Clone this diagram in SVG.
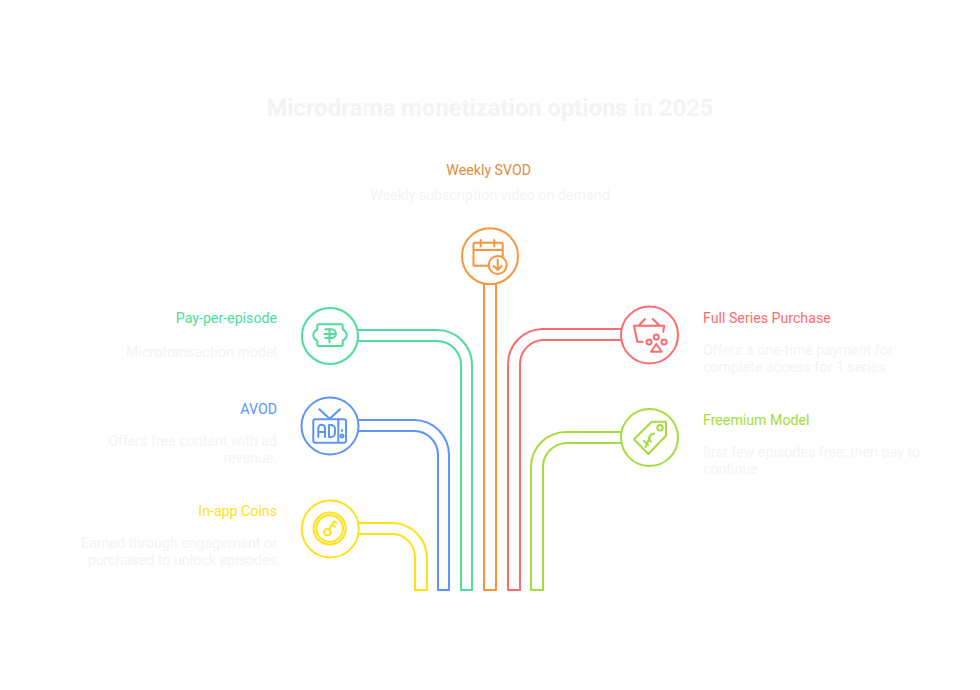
<svg xmlns="http://www.w3.org/2000/svg" width="980" height="690" viewBox="0 0 980 690">
<style>
text{font-family:Roboto,"Liberation Sans",sans-serif}
.t{font-size:23.75px;font-weight:700;fill:#f3f3f3;text-anchor:middle}
.l{font-size:14.2px;font-weight:400}
.d{font-size:14.25px;fill:#f3f3f3}
.e{text-anchor:end}
.m{text-anchor:middle}
.s{fill:none;stroke-width:2;stroke-linecap:round;stroke-linejoin:round}
.c{fill:#fff;stroke-width:2}
.g{stroke:#4fdc98}.b{stroke:#5b94fa}.y{stroke:#ffe019}.o{stroke:#f9943b}.r{stroke:#ff6b6b}.v{stroke:#a4dc3e}
</style>
<rect width="980" height="690" fill="#fff"/>
<text class="t" x="490" y="116">Microdrama monetization options in 2025</text>
<g id="connectors">
<path class="s y" d="M358 523H392A35 35 0 0 1 427 558V590H415V558A23 23 0 0 0 392 534H358"/>
<path class="s b" d="M358 420H414A35 35 0 0 1 449 455V590H438V455A24 24 0 0 0 414 431H358"/>
<path class="s g" d="M358 330H437A35 35 0 0 1 472 365V590H461V365A24 24 0 0 0 437 341H358"/>
<path class="s o" d="M484 284V590H496V284"/>
<path class="s r" d="M621 329H543A35 35 0 0 0 508 364V590H520V364A24 24 0 0 1 543 340H621"/>
<path class="s v" d="M621 432H566A35 35 0 0 0 531 467V590H543V467A24 24 0 0 1 566 443H621"/>
</g>
<g id="weekly-svod">
<circle class="c o" cx="490" cy="256.200" r="28"/>
<path class="s o" d="M488 265.700H473.500V244A1.500 1.500 0 0 1 475 242.700H501.200A1.500 1.500 0 0 1 502.700 244V256M473.500 250H502.700M480.700 240V246.500M494.300 240V246.500"/>
<circle class="s o" cx="497.700" cy="265" r="9"/>
<path class="s o" d="M497.700 259.500V270M493.700 266L497.700 270L501.700 266"/>
<text class="l m" x="488.700" y="175" fill="#e38a3c">Weekly SVOD</text>
<text class="d m" x="490" y="200">Weekly subscription video on demand</text>
</g>
<g id="pay-per-episode">
<circle class="c g" cx="330" cy="336" r="28"/>
<path class="s g" d="M317.300 325.500Q317.300 324.300 318.500 324.300H341.500Q342.700 324.300 342.700 325.500V329.300Q346.700 331.500 346.700 335Q346.700 338.500 342.700 340.700V344.800Q342.700 346 341.500 346H318.500Q317.300 346 317.300 344.800V340.700Q313.300 338.500 313.300 335Q313.300 331.500 317.300 329.300Z"/>
<path class="s g" d="M329.500 342.500V329.300M325.300 329.300H331.500A4.300 4.300 0 0 1 331.500 338H325.300M324.300 334H336"/>
<text class="l e" x="277" y="323" fill="#4fdc98">Pay-per-episode</text>
<text class="d e" x="277" y="357">Microtransaction model</text>
</g>
<g id="avod">
<circle class="c b" cx="330" cy="426" r="28.500"/>
<path class="s b" d="M315.300 419.300H344A2 2 0 0 1 346 421.300V440.700A2 2 0 0 1 344 442.700H315.300A2 2 0 0 1 313.300 440.700V421.300A2 2 0 0 1 315.300 419.300ZM338.300 419.300V442.700M319.300 409.300L329.700 418.700L340 409.300"/>
<path class="s b" d="M318.300 437V428.200A3.300 3.300 0 0 1 325 428.200V437M318.300 432H325M329 425V437H331A4 4 0 0 0 335 433V429A4 4 0 0 0 331 425Z"/>
<circle class="s b" cx="342" cy="436" r="1.500"/>
<path class="s b" d="M342 430V431"/>
<text class="l e" x="277" y="414" fill="#5b94fa">AVOD</text>
<text class="d e" x="277" y="446">Offers free content with ad</text>
<text class="d e" x="277" y="463">revenue.</text>
</g>
<g id="in-app-coins">
<circle class="c y" cx="330.300" cy="529" r="28.500"/>
<circle class="s y" cx="329.700" cy="528.500" r="16"/>
<circle class="s y" cx="329.700" cy="528.500" r="13.300"/>
<circle class="s y" cx="327.300" cy="532.300" r="3.300"/>
<path class="s y" d="M329 529.500L334 521.500L336.500 522.800M331.800 525L335 526.700"/>
<text class="l e" x="277" y="516" fill="#ffe019">In-app Coins</text>
<text class="d e" x="277" y="548">Earned through engagement or</text>
<text class="d e" x="277" y="565">purchased to unlock episodes</text>
</g>
<g id="full-series-purchase">
<circle class="c r" cx="649.500" cy="335" r="28.500"/>
<path class="s r" d="M639.300 325L645 319M652.700 319L659 325M634 325.700H664.300L663.300 331.700M634 325.700L637.300 341.700H642.700"/>
<circle class="s r" cx="649" cy="342" r="2.500"/>
<circle class="s r" cx="656.300" cy="337" r="2.500"/>
<circle class="s r" cx="664" cy="342" r="2.500"/>
<path class="s r" d="M656.300 344L661.700 351.700H651Z"/>
<text class="l" x="703" y="323" fill="#ff6b6b">Full Series Purchase</text>
<text class="d" x="703" y="355">Offers a one-time payment for</text>
<text class="d" x="703" y="372">complete access for 1 series</text>
</g>
<g id="freemium-model">
<circle class="c v" cx="649.500" cy="437.500" r="28.500"/>
<path class="s v" d="M651.700 421.700H666V435.700L648.300 454L634 439.300Z"/>
<circle class="s v" cx="660" cy="427.700" r="2.700"/>
<path class="s v" d="M644 441L648 445M654 433.500C650 434 647 438 651 441.500M645.500 447L650 437"/>
<text class="l" x="703" y="425" fill="#a4dc3e">Freemium Model</text>
<text class="d" x="703" y="457">first few episodes free, then pay to</text>
<text class="d" x="703" y="474">continue</text>
</g>
</svg>
